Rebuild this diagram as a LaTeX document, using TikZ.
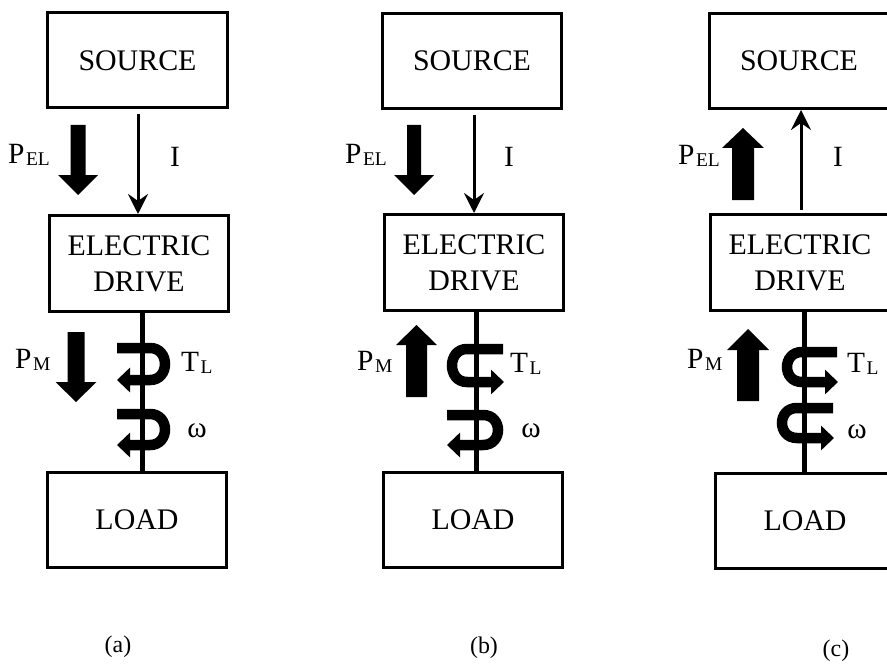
\documentclass[tikz,border=0pt]{standalone}
\usepackage{fontspec}
\setmainfont{Liberation Serif}
\usetikzlibrary{arrows.meta}
\newcommand\fatarr[6]{%
  \fill (#1-#5,#2) -- (#1+#5,#2) -- (#1+#5,#3) -- (#1+#6,#3) -- (#1,#4) -- (#1-#6,#3) -- (#1-#5,#3) -- cycle;}
\newcommand\subx[1]{\kern1.5bp\raisebox{-2bp}{\fontsize{19.5}{19.5}\selectfont #1}}
\tikzset{
  blk/.style={draw, line width=3bp, minimum width=179bp, minimum height=95bp, inner sep=0pt,
    font=\fontsize{30}{36}\selectfont, align=center},
  shaft/.style={line width=5bp},
  iarr/.style={line width=3bp, -{Stealth[length=20bp,width=20bp,inset=7bp]}},
  helix/.style={line width=10.5bp, -{Triangle[length=13bp,width=24bp]}},
  lbl/.style={inner sep=0pt, font=\fontsize{29.5}{29.5}\selectfont},
  captxt/.style={inner sep=0pt, font=\fontsize{24}{24}\selectfont}
}
\begin{document}
\begin{tikzpicture}[x=1bp,y=-1bp]
\useasboundingbox (0,0) rectangle (887,664);
\fill[white] (0,0) rectangle (887,664);

% ---------- panel (a)
\node[blk] (srca) at (137.5,60.5) {SOURCE};
\node[blk, minimum height=96bp] (eda) at (139,263.5) {ELECTRIC\\DRIVE};
\node[blk] (loada) at (137,519.5) {LOAD};
\coordinate (sha) at (142,0);
\coordinate (ia) at (138,0);
\draw[iarr] (srca.south -| ia) ++(0,5) -- (eda.north -| ia);
\fatarr{78}{125}{175}{195}{7.5}{20}
\node[lbl, anchor=base west] (pela) at (8,164) {P\subx{EL}};
\node[lbl, anchor=base] (ila) at (175,167) {I};
\draw[shaft] (eda.south -| sha) -- (loada.north -| sha);
\draw[helix] (117,348) -- (150,348) .. controls (170,348) and (170,380) .. (150,380) -- (117,380);
\draw[helix] (117,414) -- (150,414) .. controls (170,414) and (170,445) .. (150,445) -- (117,445);
\fatarr{76}{332}{382}{402}{8.5}{20.5}
\node[lbl, anchor=base west] (pma) at (15,368) {P\subx{M}};
\node[lbl, anchor=base west] (tla) at (181,371) {T\subx{L}};
\node[lbl, anchor=base] (wa) at (197,437) {ω};
\node[captxt] (capa) at (118,647) {(a)};

% ---------- panel (b)
\node[blk] (srcb) at (472,61) {SOURCE};
\node[blk, minimum height=96bp] (edb) at (474,262.5) {ELECTRIC\\DRIVE};
\node[blk] (loadb) at (473,520) {LOAD};
\coordinate (shb) at (476,0);
\coordinate (ib) at (474,0);
\draw[iarr] (srcb.south -| ib) ++(0,5) -- (edb.north -| ib);
\fatarr{414}{125}{175}{195}{7}{20}
\node[lbl, anchor=base west] (pelb) at (345,164) {P\subx{EL}};
\node[lbl, anchor=base] (ilb) at (509,167) {I};
\draw[shaft] (edb.south -| shb) -- (loadb.north -| shb);
\draw[helix] (503,349) -- (467,349) .. controls (447,349) and (447,382) .. (467,382) -- (504,382);
\draw[helix] (447,415) -- (483,415) .. controls (503,415) and (503,445) .. (483,445) -- (447,445);
\fatarr{416.5}{397}{345}{325}{10.5}{20.5}
\node[lbl, anchor=base west] (pmb) at (357,370) {P\subx{M}};
\node[lbl, anchor=base west] (tlb) at (510,372) {T\subx{L}};
\node[lbl, anchor=base] (wb) at (531,437) {ω};
\node[captxt] (capb) at (484,648) {(b)};

% ---------- panel (c)
\node[blk] (srcc) at (799,61) {SOURCE};
\node[blk, minimum height=96bp] (edc) at (800,262.5) {ELECTRIC\\DRIVE};
\node[blk] (loadc) at (805,521) {LOAD};
\coordinate (shc) at (804,0);
\coordinate (ic) at (801,0);
\draw[iarr] (edc.north -| ic) ++(0,-3) -- (srcc.south -| ic);
\fatarr{743}{200}{148}{128}{11}{21}
\node[lbl, anchor=base west] (pelc) at (678,165) {P\subx{EL}};
\node[lbl, anchor=base] (ilc) at (838,167) {I};
\draw[shaft] (edc.south -| shc) -- (loadc.north -| shc);
\draw[helix] (837,352) -- (802,352) .. controls (782,352) and (782,382) .. (802,382) -- (838,382);
\draw[helix] (833,408) -- (797,408) .. controls (777,408) and (777,438) .. (797,438) -- (834,438);
\fatarr{748}{401}{350}{329}{11}{21}
\node[lbl, anchor=base west] (pmc) at (687,368) {P\subx{M}};
\node[lbl, anchor=base west] (tlc) at (847,372) {T\subx{L}};
\node[lbl, anchor=base] (wc) at (857,438) {ω};
\node[captxt] (capc) at (836,651) {(c)};
\end{tikzpicture}
\end{document}
